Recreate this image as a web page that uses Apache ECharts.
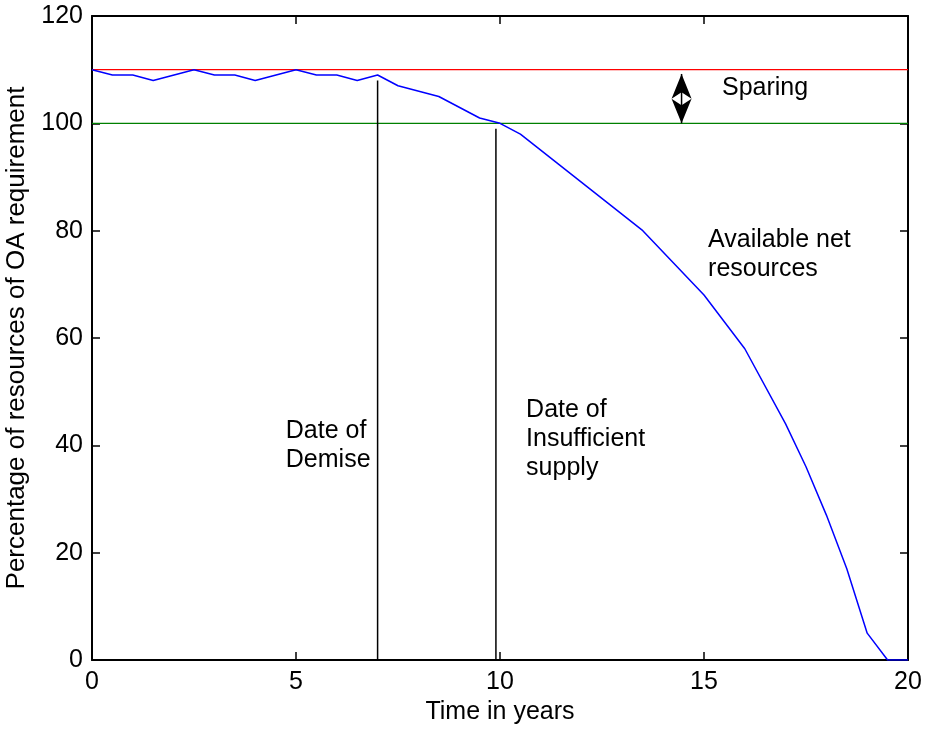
<!DOCTYPE html>
<html>
<head>
<meta charset="utf-8">
<script src="https://cdn.jsdelivr.net/npm/echarts@6/dist/echarts.min.js"></script>
<style>html,body{margin:0;padding:0;background:#fff;}#c{width:936px;height:731px;}</style>
</head>
<body>
<div id="c"></div>
<script>
// Data
var timeYears = [0, 0.5, 1, 1.5, 2.5, 3, 3.5, 4, 5, 5.5, 6, 6.5, 7, 7.5, 8.5, 9.5, 10, 10.5, 13.5, 15, 16, 17, 17.5, 18, 18.5, 19, 19.5, 20];
var netResources = [110, 109, 109, 108, 110, 109, 109, 108, 110, 109, 109, 108, 109, 107, 105, 101, 100, 98, 80, 68, 58, 44, 36, 27, 17, 5, 0, 0];
var sparingLevel = 110;
var requirementLevel = 100;
var xRange = [0, 20];
var demiseX = 7, demiseTop = 108;
var insuffX = 9.9, insuffTop = 99;
var arrowX = 14.45, arrowFrom = 100, arrowTo = 109.2;
var annoX = [15.44, 15.1, 4.75, 10.64];
var annoY = [106.6, 75.5, 40.0, 41.2];
var annoText = ['Sparing', 'Available net\nresources', 'Date of\nDemise', 'Date of\nInsufficient\nsupply'];
var xTicks = [0, 5, 10, 15, 20];
var yTicks = [0, 20, 40, 60, 80, 100, 120];

var FONT = '"Liberation Sans", Arial, Helvetica, sans-serif';
var chart = echarts.init(document.getElementById('c'), null, {renderer: 'canvas'});

function zipXY(xs, ys) { return xs.map(function (x, i) { return [x, ys[i]]; }); }

var axisCommon = {
  axisLine: {show: true, onZero: false, lineStyle: {color: '#000', width: 2}},
  axisTick: {show: true, inside: true, length: 8, lineStyle: {color: '#000', width: 1.5}},
  splitLine: {show: false}
};

var option = {
  animation: false,
  backgroundColor: '#fff',
  grid: {left: 92, right: 28, top: 16, bottom: 71, containLabel: false, outerBoundsMode: 'none'},
  xAxis: [
    Object.assign({
      type: 'value', min: xRange[0], max: xRange[1], interval: 5, position: 'bottom',
      name: 'Time in years', nameLocation: 'middle', nameGap: 38,
      nameTextStyle: {fontFamily: FONT, fontSize: 25, color: '#000'},
      axisLabel: {show: true, margin: 10, fontFamily: FONT, fontSize: 25, color: '#000',
        formatter: function (v) { return xTicks.indexOf(v) >= 0 ? String(v) : ''; }}
    }, axisCommon),
    Object.assign({
      type: 'value', min: xRange[0], max: xRange[1], interval: 5, position: 'top',
      axisLabel: {show: false}
    }, axisCommon)
  ],
  yAxis: [
    Object.assign({
      type: 'value', min: 0, max: 120, interval: 20, position: 'left',
      name: 'Percentage of resources of OA requirement', nameLocation: 'middle', nameGap: 62,
      nameTextStyle: {fontFamily: FONT, fontSize: 26, color: '#000'},
      axisLabel: {show: true, margin: 9, fontFamily: FONT, fontSize: 25, color: '#000',
        formatter: function (v) { return yTicks.indexOf(v) >= 0 ? String(v) : ''; }}
    }, axisCommon),
    Object.assign({
      type: 'value', min: 0, max: 120, interval: 20, position: 'right',
      axisLabel: {show: false}
    }, axisCommon)
  ],
  series: [
    {
      type: 'line', name: 'sparing', data: [[xRange[0], sparingLevel], [xRange[1], sparingLevel]],
      showSymbol: false, symbol: 'none', lineStyle: {color: '#ff0000', width: 1.3}, z: 2
    },
    {
      type: 'line', name: 'requirement', data: [[xRange[0], requirementLevel], [xRange[1], requirementLevel]],
      showSymbol: false, symbol: 'none', lineStyle: {color: '#008000', width: 1.3}, z: 2
    },
    {
      type: 'line', name: 'demise', data: [[demiseX, 0], [demiseX, demiseTop]],
      showSymbol: false, symbol: 'none', lineStyle: {color: '#000', width: 1.5}, z: 3
    },
    {
      type: 'line', name: 'insufficient', data: [[insuffX, 0], [insuffX, insuffTop]],
      showSymbol: false, symbol: 'none', lineStyle: {color: '#000', width: 1.5}, z: 3
    },
    {
      type: 'line', name: 'net', data: zipXY(timeYears, netResources),
      showSymbol: false, symbol: 'none', lineStyle: {color: '#0000ff', width: 1.5}, z: 4
    },
    {
      type: 'custom', name: 'arrow', data: [[arrowX, arrowFrom, arrowTo]], z: 5,
      renderItem: function (params, api) {
        var pb = api.coord([api.value(0), api.value(1)]);
        var pt = api.coord([api.value(0), api.value(2)]);
        var mid = (pb[1] + pt[1]) / 2, hw = 10, notch = 6.5;
        return {type: 'group', children: [
          {type: 'polygon', shape: {points: [[pt[0], pt[1]], [pt[0] + hw, mid], [pt[0], mid - notch], [pt[0] - hw, mid]]}, style: {fill: '#000'}},
          {type: 'polygon', shape: {points: [[pb[0], pb[1]], [pb[0] + hw, mid], [pb[0], mid + notch], [pb[0] - hw, mid]]}, style: {fill: '#000'}},
          {type: 'line', shape: {x1: pt[0], y1: pt[1], x2: pb[0], y2: pb[1]}, style: {stroke: '#000', lineWidth: 1.5}}
        ]};
      }
    },
    {
      type: 'custom', name: 'annotations', data: zipXY(annoX, annoY), z: 6,
      renderItem: function (params, api) {
        var p = api.coord([api.value(0), api.value(1)]);
        return {type: 'text', x: p[0], y: p[1], style: {
          text: annoText[params.dataIndex], fill: '#000', fontFamily: FONT, fontSize: 25,
          lineHeight: 29, align: 'left', verticalAlign: 'middle'
        }};
      }
    }
  ]
};
chart.setOption(option);
</script>
</body>
</html>
